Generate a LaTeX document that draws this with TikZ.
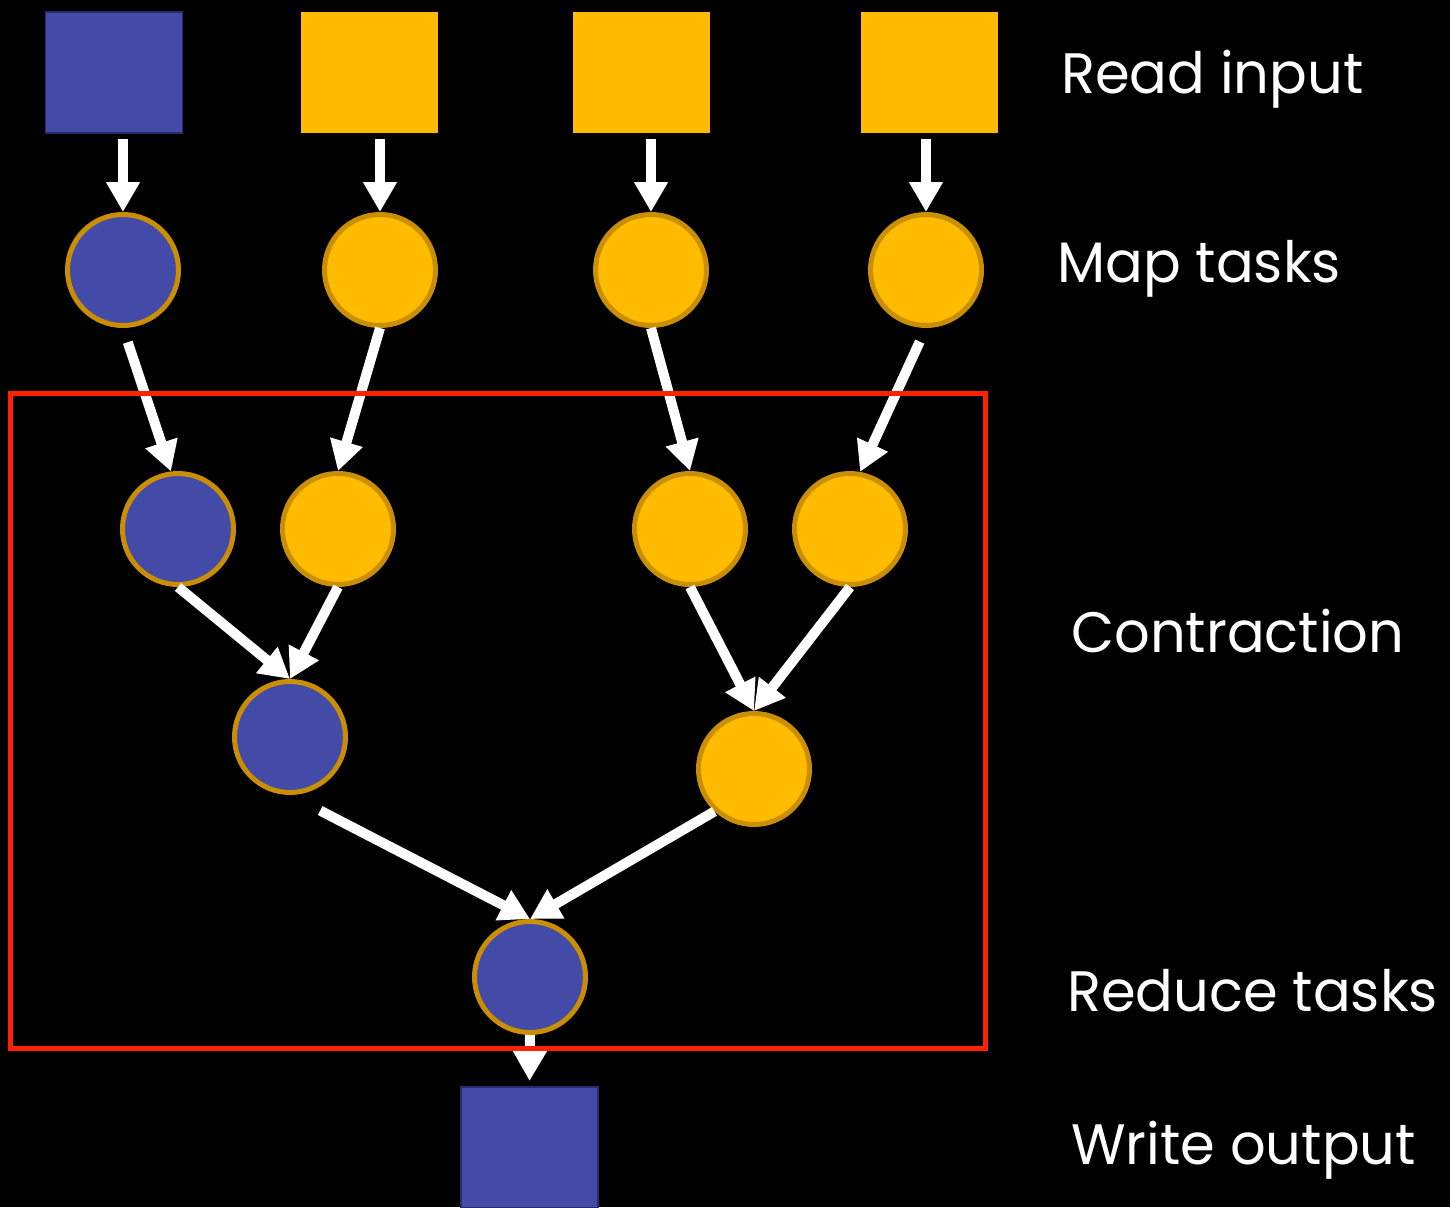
\documentclass[tikz,border=0pt]{standalone}
\usepackage{fontspec}
\setmainfont{Poppins}[FakeStretch=0.98]
\usetikzlibrary{arrows.meta}
\definecolor{nblue}{RGB}{67,74,168}
\definecolor{nyellow}{RGB}{255,187,0}
\definecolor{ngold}{RGB}{202,143,0}
\definecolor{nedge}{RGB}{40,44,110}
\definecolor{nred}{RGB}{255,34,0}
\begin{document}
\begin{tikzpicture}[x=1pt,y=-1pt,
  sqbox/.style={minimum width=137pt, minimum height=121pt, inner sep=0pt, outer sep=0pt},
  task/.style={circle, draw=ngold, line width=5pt, minimum size=111pt, inner sep=0pt},
  arr/.style={draw=white, line width=10pt, -{Triangle[width=32pt,length=30pt]}},
  lbl/.style={text=white, anchor=base west, inner sep=0pt, font=\fontsize{57}{70}\selectfont}]
\fill[black] (0,0) rectangle (1450,1207);
\useasboundingbox (0,0) rectangle (1450,1207);
% read input
\node[sqbox, fill=nblue, draw=nedge, line width=1.5pt] (s1) at (114,72.5) {};
\node[sqbox, fill=nyellow] (s2) at (369.5,72.5) {};
\node[sqbox, fill=nyellow] (s3) at (641.5,72.5) {};
\node[sqbox, fill=nyellow] (s4) at (929.5,72.5) {};
% map tasks
\node[task, fill=nblue] (m1) at (123,270) {};
\node[task, fill=nyellow] (m2) at (380,270) {};
\node[task, fill=nyellow] (m3) at (651,270) {};
\node[task, fill=nyellow] (m4) at (926,270) {};
% contraction
\node[task, fill=nblue] (c1) at (178,529) {};
\node[task, fill=nyellow] (c2) at (338,529) {};
\node[task, fill=nyellow] (c3) at (690,529) {};
\node[task, fill=nyellow] (c4) at (850,529) {};
\node[task, fill=nblue] (d1) at (290,737) {};
\node[task, fill=nyellow] (d2) at (754,769) {};
% reduce
\node[task, fill=nblue] (r) at (530,977) {};
% write output
\node[sqbox, fill=nblue, draw=nedge, line width=1.5pt] (out) at (529.5,1147.5) {};
% arrows
\draw[arr, shorten <=6pt] (m1.north |- s1.south) -- (m1.north);
\draw[arr, shorten <=6pt] (m2.north |- s2.south) -- (m2.north);
\draw[arr, shorten <=6pt] (m3.north |- s3.south) -- (m3.north);
\draw[arr, shorten <=6pt] (m4.north |- s4.south) -- (m4.north);
\draw[arr, shorten <=15pt] (m1.south) -- (c1.97);
\draw[arr] (m2.south) -- (c2.north);
\draw[arr] (m3.south) -- (c3.north);
\draw[arr, shorten <=15pt] (m4.south) -- (c4.80);
\draw[arr] (c1.south) -- (d1.north);
\draw[arr] (c2.south) -- (d1.north);
\draw[arr] (c3.south) -- (d2.north);
\draw[arr] (c4.south) -- (d2.north);
\draw[arr, shorten <=34pt] (d1.south) -- (r.north);
\draw[arr] (d2.-133) -- (r.north);
\draw[arr, shorten >=6pt] (r.south) -- (out.north);
% frame
\node[draw=nred, line width=5pt, minimum width=975pt, minimum height=655pt, inner sep=0pt] (frame) at (497.5,721) {};
% labels
\node[lbl] (t1) at (1061,93) {Read input};
\node[lbl] (t2) at (1057,282) {Map tasks};
\node[lbl] (t3) at (1071,652) {Contraction};
\node[lbl] (t4) at (1067,1011) {Reduce tasks};
\node[lbl] (t5) at (1071,1164) {Write output};
\end{tikzpicture}
\end{document}
